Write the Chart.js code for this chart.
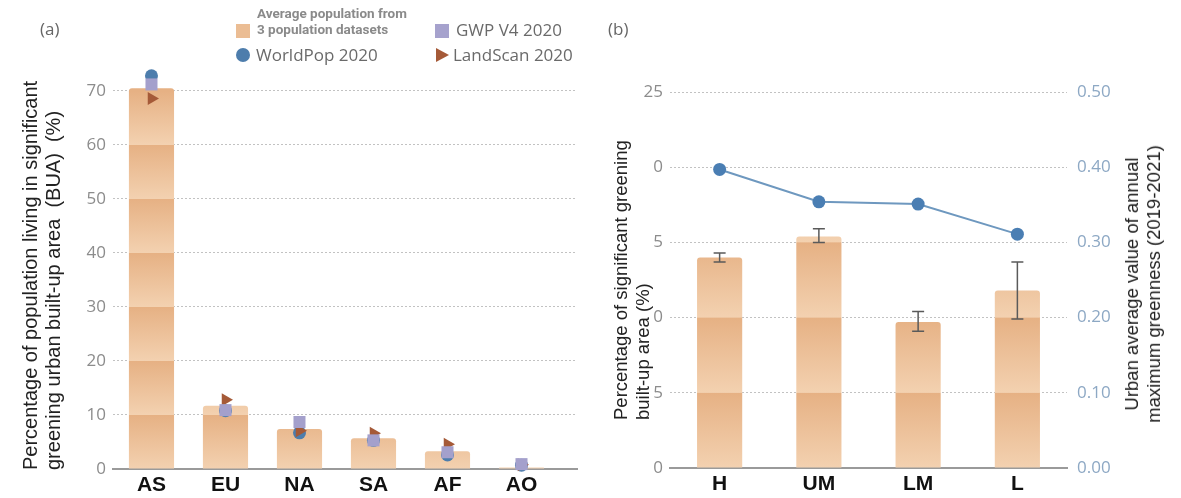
<!DOCTYPE html>
<html>
<head>
<meta charset="utf-8">
<script src="https://cdn.jsdelivr.net/npm/chart.js@4.4.1/dist/chart.umd.min.js"></script>
<style>
  html, body { margin: 0; padding: 0; background: #fff; }
  #wrap { position: relative; width: 1181px; height: 498px; overflow: hidden; font-family: "Open Sans", sans-serif; }
  .box { position: absolute; top: 0; height: 498px; }
  .tag { position: absolute; font-size: 17px; color: #666; line-height: 1; }
  .leg-text { position: absolute; font-size: 17px; color: #6a6a6a; line-height: 1; white-space: nowrap; }
  .leg-small { position: absolute; font-family: Roboto, sans-serif; font-weight: bold; font-size: 13.5px; color: #8a8a8a; line-height: 16px; white-space: nowrap; }
  .sw { position: absolute; }
  .ytitle { position: absolute; font-family: "Liberation Sans", Arial, sans-serif; color: #222;
            white-space: pre; transform-origin: 0 0; transform: rotate(-90deg); }
  .ytitle-c { position: absolute; font-family: "Liberation Sans", Arial, sans-serif; font-size: 18.5px; color: #222;
              line-height: 22px; white-space: pre; text-align: center; transform: translate(-50%, -50%) rotate(-90deg); }
</style>
</head>
<body>
<div id="wrap">
  <div class="box" style="left:0;width:600px"><canvas id="chart-a" width="600" height="498"></canvas></div>
  <div class="box" style="left:600px;width:581px"><canvas id="chart-b" width="581" height="498"></canvas></div>

  <div class="tag" style="left:40px;top:20px">(a)</div>
  <div class="tag" style="left:608px;top:20px">(b)</div>

  <!-- legend for panel (a) -->
  <div class="sw" style="left:236px;top:24px;width:14px;height:14px;background:#ebbd94"></div>
  <div class="leg-small" style="left:257px;top:5px">Average population from<br>3 population datasets</div>
  <div class="sw" style="left:435px;top:24px;width:14px;height:14px;background:#a6a2cd"></div>
  <div class="leg-text" style="left:456px;top:21px">GWP V4 2020</div>
  <div class="sw" style="left:236px;top:48px;width:14px;height:14px;border-radius:50%;background:#4d7dac"></div>
  <div class="leg-text" style="left:256px;top:46px">WorldPop 2020</div>
  <div class="sw" style="left:436px;top:48px;width:0;height:0;border-top:7px solid transparent;border-bottom:7px solid transparent;border-left:13px solid #a55a38"></div>
  <div class="leg-text" style="left:453px;top:46px">LandScan 2020</div>

  <!-- axis titles -->
  <div class="ytitle" style="left:19px;top:470px;font-size:20px;line-height:23px">Percentage of population living in significant
greening urban built-up area  (BUA)  (%)</div>
  <div class="ytitle" style="left:610px;top:420px;font-size:18.5px;line-height:22px;background:#fff">Percentage of significant greening
built-up area (%)</div>
  <div class="ytitle-c" style="left:1143px;top:284px">Urban average value of annual
maximum greenness (2019-2021)</div>
</div>

<script>
// Panel (a): share of population living in significant greening BUA, by continent
const CONTINENTS = ['AS', 'EU', 'NA', 'SA', 'AF', 'AO'];
const AVG_POP = [70.5, 11.7, 7.4, 5.7, 3.3, 0.3];
const WORLDPOP = [72.8, 10.8, 6.7, 5.3, 2.6, 0.7];
const GWP = [71.2, 10.9, 8.7, 5.3, 3.1, 0.9];
const LANDSCAN = [68.6, 12.8, 7.1, 6.6, 4.6, 0.8];
const A_Y_TICKS = [0, 10, 20, 30, 40, 50, 60, 70];

// Panel (b): by income group, bars with error range + greenness line
const INCOME = ['H', 'UM', 'LM', 'L'];
const GREEN_SHARE = [14.0, 15.4, 9.7, 11.8];
const GREEN_LOW = [13.7, 15.0, 9.1, 9.9];
const GREEN_HIGH = [14.3, 15.9, 10.4, 13.7];
const GREENNESS = [0.397, 0.354, 0.351, 0.311];
const B_Y_TICKS = [0, 5, 10, 15, 20, 25];
const B_Y1_TICKS = [0, 0.1, 0.2, 0.3, 0.4, 0.5];

const BAR_DARK = '#e6b184';
const BAR_LIGHT = '#f3d1b0';
const GRID = '#c2c2c2';
const TICK_GREY = '#8c8c8c';

Chart.defaults.font.family = '"Open Sans", sans-serif';
Chart.defaults.animation = false;

// bars fade from dark (just under a grid line) to light (just above the next one)
function bandFill(c) {
  const chart = c.chart;
  const area = chart.chartArea;
  if (!area) return BAR_LIGHT;
  const y = chart.scales.y;
  const h = area.bottom - area.top;
  const g = chart.ctx.createLinearGradient(0, area.top, 0, area.bottom);
  const px = y.ticks.map(t => y.getPixelForValue(t.value)).sort((a, b) => a - b);
  const clamp = v => Math.min(1, Math.max(0, v));
  for (let i = 0; i < px.length - 1; i++) {
    g.addColorStop(clamp((px[i] - area.top) / h + 0.001), BAR_DARK);
    g.addColorStop(clamp((px[i + 1] - area.top) / h - 0.001), BAR_LIGHT);
  }
  return g;
}

const xLabelFont = { family: '"Liberation Sans", Arial, sans-serif', size: 21, weight: 'bold' };
const tickFont = { size: 17 };

function points(arr) {
  return arr.map((v, i) => ({ x: i, y: v }));
}

new Chart(document.getElementById('chart-a'), {
  type: 'bar',
  data: {
    datasets: [
      { type: 'scatter', label: 'GWP V4 2020', data: points(GWP), pointStyle: 'rect', pointRadius: 8.5,
        backgroundColor: '#a4a0cc', borderWidth: 0, clip: false, order: 0 },
      { type: 'scatter', label: 'LandScan 2020', data: points(LANDSCAN), pointStyle: 'triangle', pointRotation: 90,
        pointRadius: 7.5, backgroundColor: '#a55a38', borderWidth: 0, clip: false, order: 1 },
      { type: 'scatter', label: 'WorldPop 2020', data: points(WORLDPOP), pointStyle: 'circle', pointRadius: 6.5,
        backgroundColor: '#4d7dac', borderWidth: 0, clip: false, order: 2 },
      { label: 'Average population', data: points(AVG_POP), backgroundColor: bandFill, borderWidth: 0,
        borderRadius: 3, borderSkipped: 'bottom', barPercentage: 0.61, categoryPercentage: 1, order: 3 }
    ]
  },
  options: {
    responsive: false,
    // scale runs a bit past 70 so the top markers stay inside the plot area
    layout: { padding: { top: 72, right: 23, left: 0, bottom: 0 } },
    plugins: { legend: { display: false }, tooltip: { enabled: false } },
    scales: {
      x: {
        type: 'linear', min: -0.52, max: 5.75, offset: false,
        afterBuildTicks: s => { s.ticks = CONTINENTS.map((_, i) => ({ value: i })); },
        afterFit: s => { s.height = 29; },
        ticks: { callback: v => CONTINENTS[v] ?? '', font: xLabelFont, color: '#111', padding: 4,
                 maxRotation: 0, autoSkip: false },
        grid: { display: false, drawTicks: false, offset: false },
        border: { display: true, color: '#9a9a9a', width: 2 }
      },
      y: {
        min: 0, max: 73.5,
        afterBuildTicks: s => { s.ticks = A_Y_TICKS.map(v => ({ value: v })); },
        afterFit: s => { s.width = 113; },
        ticks: { font: tickFont, color: TICK_GREY, padding: 7 },
        grid: { color: GRID, lineWidth: 1, drawTicks: false },
        border: { display: false, dash: [2, 2] }
      }
    }
  }
});

const errorBars = {
  id: 'errorBars',
  afterDatasetsDraw(chart) {
    const { ctx, scales: { x, y } } = chart;
    ctx.save();
    ctx.strokeStyle = '#5a5a5a';
    ctx.lineWidth = 1.5;
    INCOME.forEach((_, i) => {
      const cx = x.getPixelForValue(i);
      const top = y.getPixelForValue(GREEN_HIGH[i]);
      const bot = y.getPixelForValue(GREEN_LOW[i]);
      ctx.beginPath();
      ctx.moveTo(cx, top); ctx.lineTo(cx, bot);
      ctx.moveTo(cx - 6, top); ctx.lineTo(cx + 6, top);
      ctx.moveTo(cx - 6, bot); ctx.lineTo(cx + 6, bot);
      ctx.stroke();
    });
    ctx.restore();
  }
};

new Chart(document.getElementById('chart-b'), {
  type: 'bar',
  data: {
    labels: INCOME,
    datasets: [
      { type: 'line', label: 'Greenness', data: GREENNESS, yAxisID: 'y1', borderColor: '#6e98bf', borderWidth: 2,
        pointRadius: 6.5, pointBackgroundColor: '#4a7eb3', pointBorderWidth: 0, tension: 0, order: 0 },
      { label: 'Greening BUA %', data: GREEN_SHARE, yAxisID: 'y', backgroundColor: bandFill, borderWidth: 0,
        borderRadius: 3, borderSkipped: 'bottom', barPercentage: 0.455, categoryPercentage: 1, order: 1 }
    ]
  },
  options: {
    responsive: false,
    layout: { padding: { top: 92, right: 0, left: 0, bottom: 0 } },
    plugins: { legend: { display: false }, tooltip: { enabled: false } },
    scales: {
      x: {
        afterFit: s => { s.height = 30; },
        ticks: { font: xLabelFont, color: '#111', padding: 4, maxRotation: 0 },
        grid: { display: false, drawTicks: false },
        border: { display: true, color: '#9a9a9a', width: 2 }
      },
      y: {
        position: 'left', min: 0, max: 25,
        afterBuildTicks: s => { s.ticks = B_Y_TICKS.map(v => ({ value: v })); },
        afterFit: s => { s.width = 70; },
        ticks: { font: tickFont, color: TICK_GREY, padding: 7 },
        grid: { color: GRID, lineWidth: 1, drawTicks: false },
        border: { display: false, dash: [2, 2] }
      },
      y1: {
        position: 'right', min: 0, max: 0.5,
        afterBuildTicks: s => { s.ticks = B_Y1_TICKS.map(v => ({ value: v })); },
        afterFit: s => { s.width = 114; },
        ticks: { font: tickFont, color: '#8da8c4', padding: 10, callback: v => v.toFixed(2) },
        grid: { drawOnChartArea: false, drawTicks: false },
        border: { display: false }
      }
    }
  },
  plugins: [errorBars]
});
</script>
</body>
</html>
